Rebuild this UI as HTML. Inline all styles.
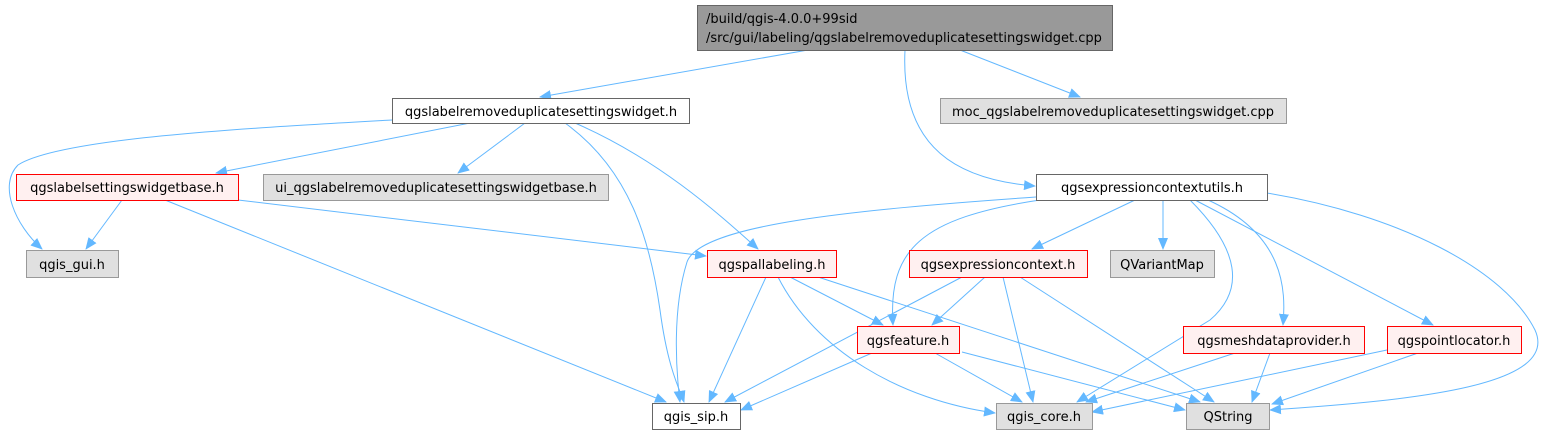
<!DOCTYPE html>
<html><head><meta charset="utf-8"><style>
html,body{margin:0;padding:0;background:#fff}
svg{display:block}
text{font-family:"DejaVu Sans","Liberation Sans",sans-serif;font-size:13px;fill:#000}
.e{fill:none;stroke:#63b8ff;stroke-width:1}
</style></head><body>
<svg width="1544" height="434" viewBox="0 0 1544 434" xmlns="http://www.w3.org/2000/svg">
<defs><marker id="a" markerWidth="12" markerHeight="10" refX="11" refY="5" orient="auto" markerUnits="userSpaceOnUse"><path d="M0,0 L12,5 L0,10 z" fill="#63b8ff"/></marker></defs>
<g class="e" marker-end="url(#a)">
<path d="M808,50 L540,97"/>
<path d="M960,50 L1080,97"/>
<path d="M905,50 C900,150 960,180 1035,186"/>
<path d="M392,120 C250,128 60,138 18,165 C-2,185 15,225 42,249"/>
<path d="M470,123 L216,173"/>
<path d="M525,123 L458,173"/>
<path d="M565,123 C630,170 650,240 660,310 C668,370 680,390 684,402"/>
<path d="M575,123 C660,160 720,215 758,249"/>
<path d="M122,200 L86,249"/>
<path d="M165,200 L666,402"/>
<path d="M238,200 L706,256"/>
<path d="M1036,197 C850,210 700,225 687,262 C672,310 676,370 680,402"/>
<path d="M1040,200 C920,218 888,250 893,325"/>
<path d="M1135,200 L1032,249"/>
<path d="M1163,200 L1163,249"/>
<path d="M1190,200 C1240,250 1245,290 1210,320 L1077,402"/>
<path d="M1208,200 C1285,235 1286,290 1283,325"/>
<path d="M1195,200 L1433,325"/>
<path d="M1267,193 C1400,215 1505,270 1535,330 C1560,385 1420,400 1270,410"/>
<path d="M766,277 L709,402"/>
<path d="M790,277 L883,325"/>
<path d="M778,277 C815,350 900,400 995,413"/>
<path d="M818,277 L1200,402"/>
<path d="M962,277 L725,402"/>
<path d="M985,277 L932,325"/>
<path d="M1003,277 L1033,402"/>
<path d="M1020,277 L1214,402"/>
<path d="M872,353 L741,410"/>
<path d="M935,353 L1022,402"/>
<path d="M962,352 L1185,410"/>
<path d="M1235,353 L1086,402"/>
<path d="M1270,353 L1252,402"/>
<path d="M1387,350 L1092,412"/>
<path d="M1418,353 L1272,404"/>
</g>
<g stroke-width="1">
<rect x="697.5" y="5.5" width="415" height="45" fill="#999" stroke="#666"/>
<rect x="392.5" y="98.5" width="297" height="25" fill="#fff" stroke="#666"/>
<rect x="940.5" y="98.5" width="346" height="25" fill="#e0e0e0" stroke="#999"/>
<rect x="1036.5" y="174.5" width="231" height="26" fill="#fff" stroke="#666"/>
<rect x="16.5" y="174.5" width="222" height="26" fill="#fff0f0" stroke="#f00"/>
<rect x="263.5" y="174.5" width="345" height="26" fill="#e0e0e0" stroke="#999"/>
<rect x="26.5" y="250.5" width="92" height="27" fill="#e0e0e0" stroke="#999"/>
<rect x="707.5" y="250.5" width="129" height="27" fill="#fff0f0" stroke="#f00"/>
<rect x="909.5" y="250.5" width="178" height="27" fill="#fff0f0" stroke="#f00"/>
<rect x="1110.5" y="250.5" width="104" height="27" fill="#e0e0e0" stroke="#999"/>
<rect x="857.5" y="326.5" width="102" height="27" fill="#fff0f0" stroke="#f00"/>
<rect x="1183.5" y="326.5" width="181" height="27" fill="#fff0f0" stroke="#f00"/>
<rect x="1387.5" y="326.5" width="134" height="27" fill="#fff0f0" stroke="#f00"/>
<rect x="652.5" y="403.5" width="88" height="26" fill="#fff" stroke="#666"/>
<rect x="996.5" y="403.5" width="96" height="26" fill="#e0e0e0" stroke="#999"/>
<rect x="1186.5" y="403.5" width="83" height="26" fill="#e0e0e0" stroke="#999"/>
</g>
<g>
<text x="706" y="23">/build/qgis-4.0.0+99sid</text>
<text x="706" y="42">/src/gui/labeling/qgslabelremoveduplicatesettingswidget.cpp</text>
<g text-anchor="middle">
<text x="541" y="116">qgslabelremoveduplicatesettingswidget.h</text>
<text x="1113" y="116">moc_qgslabelremoveduplicatesettingswidget.cpp</text>
<text x="1152" y="192">qgsexpressioncontextutils.h</text>
<text x="127" y="192">qgslabelsettingswidgetbase.h</text>
<text x="436" y="192">ui_qgslabelremoveduplicatesettingswidgetbase.h</text>
<text x="72" y="269">qgis_gui.h</text>
<text x="772" y="269">qgspallabeling.h</text>
<text x="998" y="269">qgsexpressioncontext.h</text>
<text x="1162" y="269">QVariantMap</text>
<text x="908" y="345">qgsfeature.h</text>
<text x="1274" y="345">qgsmeshdataprovider.h</text>
<text x="1454" y="345">qgspointlocator.h</text>
<text x="696" y="421">qgis_sip.h</text>
<text x="1044" y="421">qgis_core.h</text>
<text x="1228" y="421">QString</text>
</g></g>
</svg>
</body></html>
